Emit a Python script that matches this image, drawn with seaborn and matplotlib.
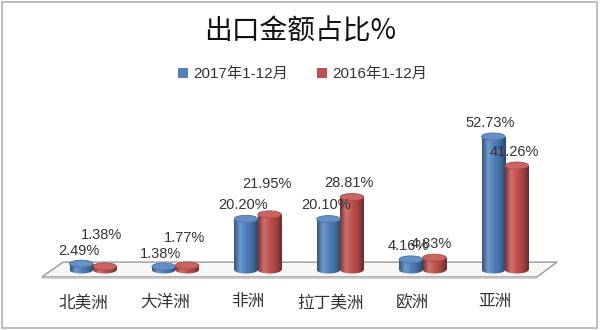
import numpy as np
import pandas as pd
import matplotlib
matplotlib.use("Agg")
import matplotlib.pyplot as plt
import seaborn as sns
from matplotlib.patches import Ellipse, Polygon, Patch, Rectangle
from matplotlib.colors import LinearSegmentedColormap, to_rgb
from matplotlib import transforms

# ---- data ----
regions = ["北美洲", "大洋洲", "非洲", "拉丁美洲", "欧洲", "亚洲"]
series_names = ["2017年1-12月", "2016年1-12月"]
values_2017 = [2.49, 1.38, 20.20, 20.10, 4.16, 52.73]
values_2016 = [1.38, 1.77, 21.95, 28.81, 4.83, 41.26]
title = "出口金额占比%"

# ---- styles ----
colors = ["#4F81BD", "#C0504D"]
label_lift = [[9, 9, 10, 10, 10, 10], [23, 20, 22, 10, 10, 10]]  # points

sns.set_style("white")
plt.rcParams["font.family"] = ["Liberation Sans", "Noto Sans CJK SC"]

df = pd.DataFrame({
    "region": regions * 2,
    "series": [series_names[0]] * len(regions) + [series_names[1]] * len(regions),
    "value": values_2017 + values_2016,
})

fig = plt.figure(figsize=(6, 3.3), dpi=100)
ax = fig.add_axes([40 / 600, 39.8 / 330, 520 / 600, 192.3 / 330])

sns.barplot(data=df, x="region", y="value", hue="series", order=regions,
            hue_order=series_names, palette=colors, saturation=1, width=0.57,
            ax=ax, legend=False, zorder=3, linewidth=0)

xlim = (-0.643, 5.667)
ylim = (-8, 68)

def shade(c, f):
    r = np.array(to_rgb(c))
    if f < 0:
        return tuple(r * (1 + f))
    return tuple(r + (1 - r) * f)

ell_h = 2.8
for ci, cont in enumerate(ax.containers):
    base = colors[ci]
    cmap = LinearSegmentedColormap.from_list(
        "cyl", [shade(base, -0.35), shade(base, 0.2), base, shade(base, -0.15), shade(base, -0.45)])
    grad = np.linspace(0, 1, 64).reshape(1, -1)
    for j, bar in enumerate(cont):
        x0 = bar.get_x()
        w = bar.get_width()
        h = bar.get_height()
        cx = x0 + w / 2
        # bottom ellipse
        be = Ellipse((cx, 0), w, ell_h, facecolor="none", edgecolor="none", zorder=2)
        ax.add_patch(be)
        im = ax.imshow(grad, extent=[x0, x0 + w, -ell_h, ell_h], cmap=cmap,
                       aspect="auto", zorder=2, interpolation="bilinear")
        im.set_clip_path(be)
        # body gradient
        im2 = ax.imshow(grad, extent=[x0, x0 + w, 0, h], cmap=cmap,
                        aspect="auto", zorder=3.1, interpolation="bilinear")
        im2.set_clip_path(bar)
        # top ellipse
        te = Ellipse((cx, h), w, ell_h, facecolor=shade(base, 0.12),
                     edgecolor=shade(base, -0.1), linewidth=0.6, zorder=4)
        ax.add_patch(te)
        # label
        ax.annotate(f"{h:.2f}%", (cx, h), xytext=(-2, label_lift[ci][j]),
                    textcoords="offset points", ha="center", va="center",
                    fontsize=10.5, color="#333333", zorder=6)

# floor (decorative 3D plane)
floor = Polygon([(-0.619, -2.77), (5.388, -2.77), (5.631, 3.1), (-0.364, 3.1)],
                closed=True, facecolor="#f7f7f7", edgecolor="#9a9a9a",
                linewidth=1.0, zorder=1)
ax.add_patch(floor)
ax.plot([-0.619, 5.388], [-3.3, -3.3], color="#c8c8c8", lw=1.2, zorder=1)

ax.set_xlim(*xlim)
ax.set_ylim(*ylim)
ax.set_xlabel("")
ax.set_ylabel("")
ax.set_yticks([])
ax.tick_params(axis="x", length=0, pad=3, labelsize=12, labelcolor="#333333")
offset = transforms.ScaledTranslation(-10 / 100, 0, fig.dpi_scale_trans)
for lab in ax.get_xticklabels():
    lab.set_transform(lab.get_transform() + offset)
for s in ax.spines.values():
    s.set_visible(False)
ax.patch.set_alpha(0)

fig.text(0.5, 1 - 32 / 330, title, ha="center", va="center", fontsize=20,
         color="#111111", family=["Noto Sans CJK SC"], weight="medium")

handles = [Patch(facecolor=c, edgecolor="none") for c in colors]
fig.legend(handles, series_names, loc="center", bbox_to_anchor=(0.505, 1 - 74 / 330),
           ncol=2, frameon=False, fontsize=11, handlelength=0.65, handleheight=0.65,
           handletextpad=0.35, columnspacing=1.9, labelcolor="#333333")

fig.patches.append(Rectangle((0.003, 0.005), 0.992, 0.99, transform=fig.transFigure,
                             fill=False, edgecolor="#bdbdbd", linewidth=1.4))

fig.savefig("out.png", dpi=100, facecolor="white")
